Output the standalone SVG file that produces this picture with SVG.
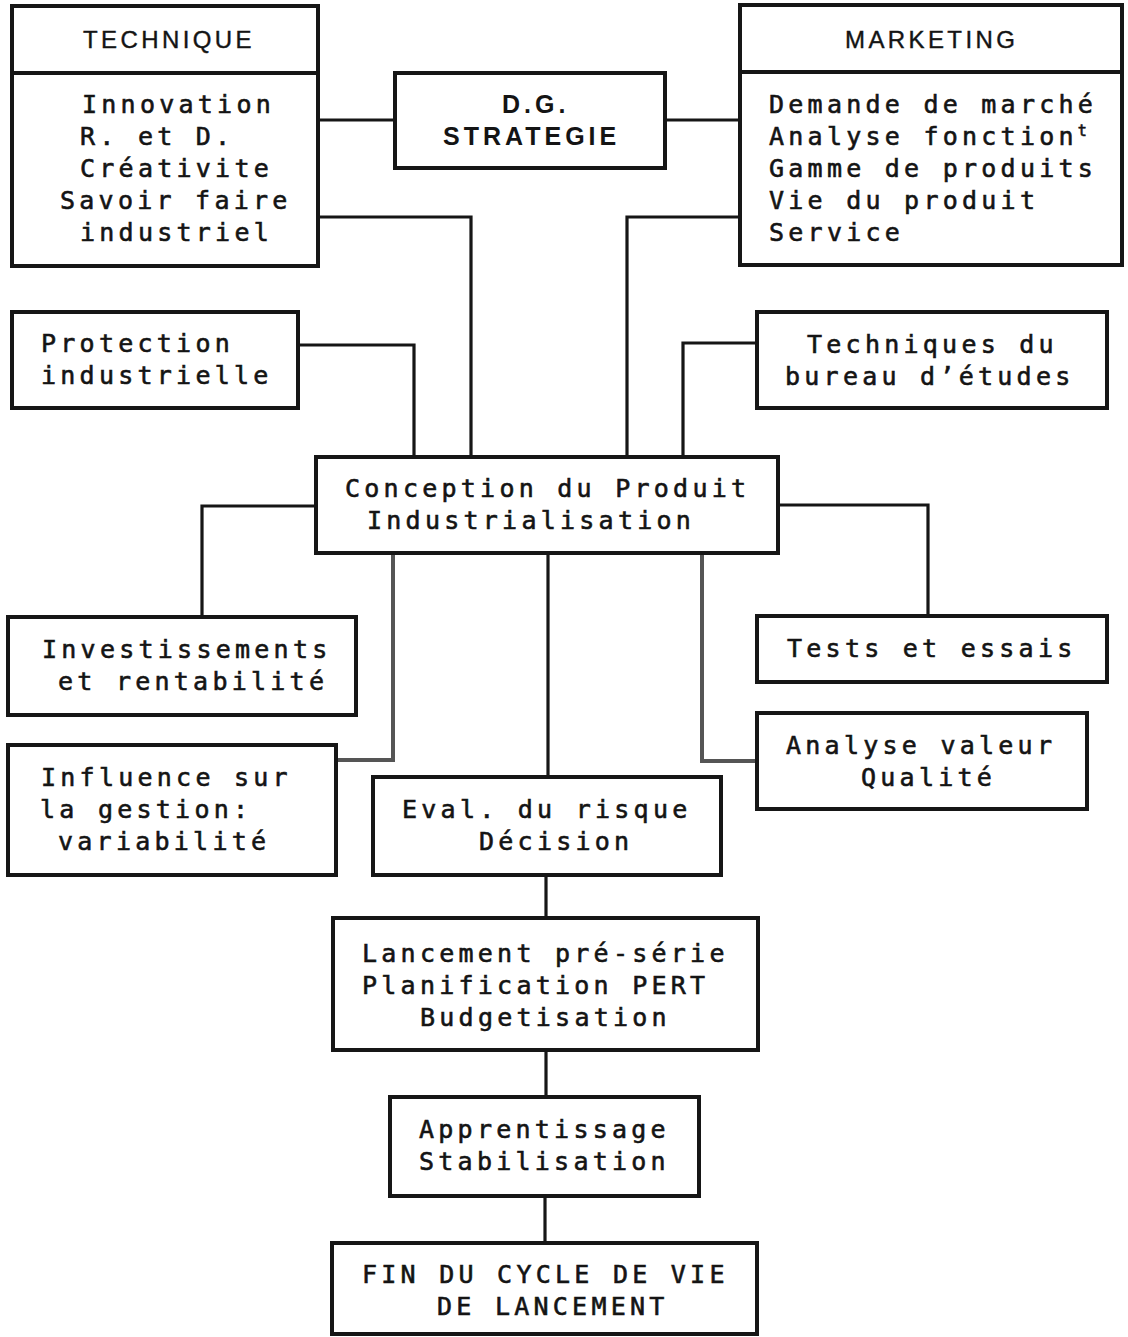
<svg xmlns="http://www.w3.org/2000/svg" width="1128" height="1337" viewBox="0 0 1128 1337">
  <style>
    .box { fill: #ffffff; stroke: #161616; stroke-width: 4; }
    .rule { stroke: #161616; stroke-width: 4; }
    .wire { fill: none; stroke: #161616; stroke-width: 3.2; }
    .wire.soft { stroke: #555555; stroke-width: 4; }
    .t { font-family: "DejaVu Sans Mono", "Liberation Mono", monospace; font-size: 25px; letter-spacing: 4.25px; fill: #141414; stroke: #141414; stroke-width: 0.6px; }
    .h { font-family: "Liberation Sans", Arial, sans-serif; font-size: 24px; letter-spacing: 3.4px; fill: #141414; stroke: #141414; stroke-width: 0.4px; }
    .hb { font-family: "Liberation Sans", Arial, sans-serif; font-size: 25px; font-weight: bold; letter-spacing: 4px; fill: #141414; }
  </style>
  <rect width="1128" height="1337" fill="#ffffff"/>

  <!-- connectors -->
  <g id="connectors">
    <path class="wire" d="M318,120 H395"/>
    <path class="wire" d="M665,120 H740"/>
    <path class="wire" d="M318,217 H471 V457"/>
    <path class="wire" d="M740,217 H627 V457"/>
    <path class="wire" d="M298,345 H414 V457"/>
    <path class="wire" d="M757,343 H683 V457"/>
    <path class="wire" d="M316,506 H202 V617"/>
    <path class="wire" d="M778,505 H928 V616"/>
    <path class="wire soft" d="M393,553 V760 H336"/>
    <path class="wire" d="M548,553 V777"/>
    <path class="wire soft" d="M702,553 V761 H757"/>
    <path class="wire" d="M546,875 V918"/>
    <path class="wire" d="M546,1050 V1097"/>
    <path class="wire" d="M545,1196 V1243"/>
  </g>

  <!-- nodes -->
  <g id="technique">
    <rect class="box" x="12" y="6" width="306" height="260"/>
    <line class="rule" x1="12" y1="73" x2="318" y2="73"/>
    <text class="h" x="83" y="48">TECHNIQUE</text>
    <text class="t" x="82" y="113">Innovation</text>
    <text class="t" x="80" y="145">R. et D.</text>
    <text class="t" x="80" y="177">Créativite</text>
    <text class="t" x="60" y="209">Savoir faire</text>
    <text class="t" x="80" y="241">industriel</text>
  </g>

  <g id="dg-strategie">
    <rect class="box" x="395" y="73" width="270" height="95"/>
    <text class="hb" x="502" y="113">D.G.</text>
    <text class="hb" x="443" y="145">STRATEGIE</text>
  </g>

  <g id="marketing">
    <rect class="box" x="740" y="5" width="382" height="260"/>
    <line class="rule" x1="740" y1="72" x2="1122" y2="72"/>
    <text class="h" x="845" y="48">MARKETING</text>
    <text class="t" x="769" y="113">Demande de marché</text>
    <text class="t" x="769" y="145">Analyse fonction<tspan font-size="15" dy="-9" letter-spacing="0">t</tspan></text>
    <text class="t" x="769" y="177">Gamme de produits</text>
    <text class="t" x="769" y="209">Vie du produit</text>
    <text class="t" x="769" y="241">Service</text>
  </g>

  <g id="protection">
    <rect class="box" x="12" y="312" width="286" height="96"/>
    <text class="t" x="41" y="352">Protection</text>
    <text class="t" x="41" y="384">industrielle</text>
  </g>

  <g id="bureau-etudes">
    <rect class="box" x="757" y="312" width="350" height="96"/>
    <text class="t" x="807" y="353">Techniques du</text>
    <text class="t" x="785" y="385">bureau d’études</text>
  </g>

  <g id="conception">
    <rect class="box" x="316" y="457" width="462" height="96"/>
    <text class="t" x="345" y="497">Conception du Produit</text>
    <text class="t" x="367" y="529">Industrialisation</text>
  </g>

  <g id="investissements">
    <rect class="box" x="8" y="617" width="348" height="98"/>
    <text class="t" x="42" y="658">Investissements</text>
    <text class="t" x="58" y="690">et rentabilité</text>
  </g>

  <g id="influence">
    <rect class="box" x="8" y="745" width="328" height="130"/>
    <text class="t" x="41" y="786">Influence sur</text>
    <text class="t" x="40" y="818">la gestion:</text>
    <text class="t" x="58" y="850">variabilité</text>
  </g>

  <g id="evaluation">
    <rect class="box" x="373" y="777" width="348" height="98"/>
    <text class="t" x="402" y="818">Eval. du risque</text>
    <text class="t" x="479" y="850">Décision</text>
  </g>

  <g id="tests">
    <rect class="box" x="757" y="616" width="350" height="66"/>
    <text class="t" x="787" y="657">Tests et essais</text>
  </g>

  <g id="analyse-valeur">
    <rect class="box" x="757" y="713" width="330" height="96"/>
    <text class="t" x="786" y="754">Analyse valeur</text>
    <text class="t" x="861" y="786">Qualité</text>
  </g>

  <g id="lancement">
    <rect class="box" x="333" y="918" width="425" height="132"/>
    <text class="t" x="362" y="962">Lancement pré-série</text>
    <text class="t" x="362" y="994">Planification PERT</text>
    <text class="t" x="420" y="1026">Budgetisation</text>
  </g>

  <g id="apprentissage">
    <rect class="box" x="390" y="1097" width="309" height="99"/>
    <text class="t" x="419" y="1138">Apprentissage</text>
    <text class="t" x="419" y="1170">Stabilisation</text>
  </g>

  <g id="fin-cycle">
    <rect class="box" x="332" y="1243" width="425" height="91"/>
    <text class="t" x="362" y="1283">FIN DU CYCLE DE VIE</text>
    <text class="t" x="437" y="1315">DE LANCEMENT</text>
  </g>
</svg>
